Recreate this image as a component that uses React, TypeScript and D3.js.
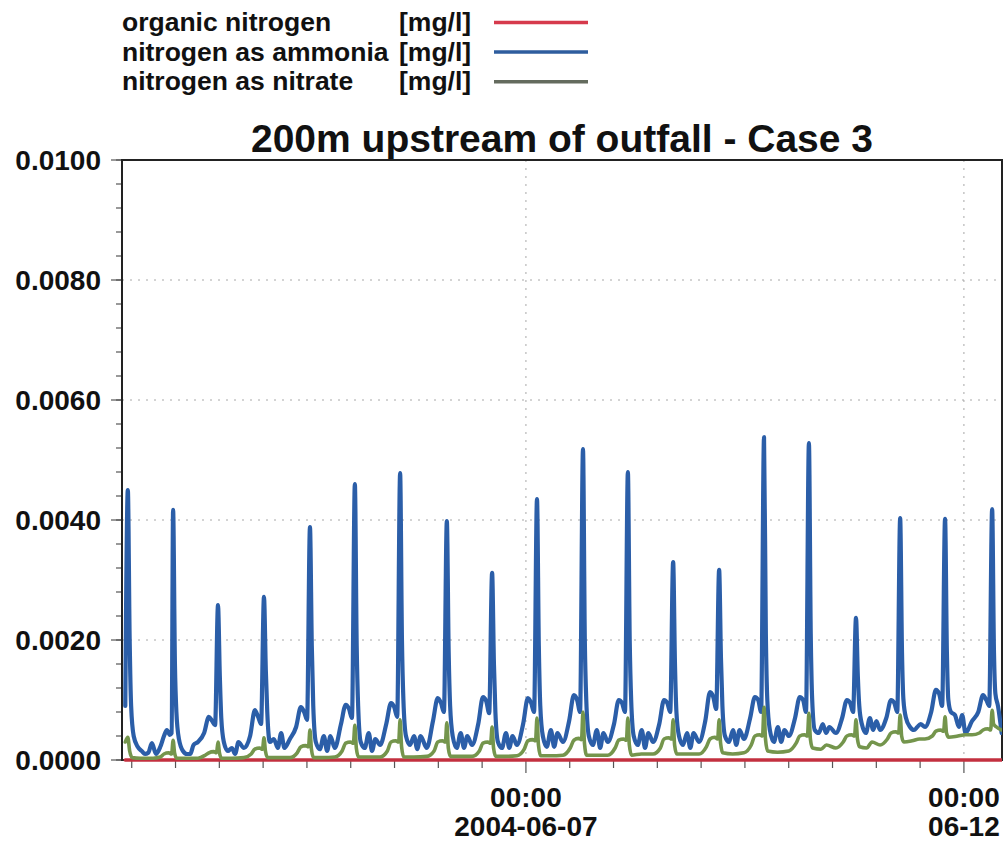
import { useRef, useEffect } from "react";
import * as d3 from "d3";

// [hours after startTime, concentration in mg/l]
type Point = [number, number];

const startTime = Date.UTC(2004, 5, 2, 9, 20);
const endHour = 241.1;

const chartTitle = "200m upstream of outfall - Case 3";
const seriesNames = ["organic nitrogen", "nitrogen as ammonia", "nitrogen as nitrate"];
const unitLabel = "[mg/l]";

const organicNitrogen: Point[] = [
  [0.9, 0], [60, 0], [120, 0], [180, 0], [241.0, 0],
];

const ammonia: Point[] = [
  // cycle 1
  [0.9, 0.0009], [1.6, 0.0045], [2.1, 0.002], [2.5, 0.0009], [3.2, 0.0004], [4.3, 0.00022], [5.4, 0.00015], [6.3, 0.0001], [7.2, 0.00012],
  // cycle 2
  [8.2, 0.00028], [9.3, 0.0001], [10.5, 0.00022], [11.5, 0.0004], [12.3, 0.0005], [13.1, 0.00042], [13.6, 0.00045], [14.0, 0.00417], [14.5, 0.0016], [14.9, 0.0008], [15.6, 0.00035], [16.7, 0.00015], [17.8, 0.0001], [18.7, 0.0001], [19.6, 0.00025],
  // cycle 3
  [20.8, 0.0003], [22.5, 0.00045], [23.8, 0.00072], [24.7, 0.00065], [25.5, 0.00058], [26.3, 0.00258], [26.8, 0.0014], [27.2, 0.0007], [27.9, 0.0003], [29.0, 0.00015], [30.1, 0.0002], [31.0, 0.0001], [31.9, 0.0003],
  // cycle 4
  [33.4, 0.0002], [35.1, 0.0004], [36.4, 0.00083], [37.3, 0.00072], [38.1, 0.0006], [38.9, 0.00272], [39.4, 0.0015], [39.8, 0.0008], [40.5, 0.0003], [41.6, 0.00035], [42.7, 0.0002], [43.6, 0.00045], [44.5, 0.0002],
  // cycle 5
  [46.0, 0.00035], [47.7, 0.00055], [49.0, 0.00088], [49.9, 0.0008], [50.7, 0.00067], [51.5, 0.00388], [52.0, 0.0019], [52.4, 0.0009], [53.1, 0.0003], [54.2, 0.00018], [55.3, 0.0004], [56.2, 0.00015], [57.1, 0.0004],
  // cycle 6
  [58.3, 0.0002], [60.0, 0.0006], [61.3, 0.00092], [62.2, 0.00085], [63.0, 0.0007], [63.8, 0.0046], [64.3, 0.0019], [64.7, 0.0009], [65.4, 0.0003], [66.5, 0.0002], [67.6, 0.00045], [68.5, 0.00015], [69.4, 0.00035],
  // cycle 7
  [70.7, 0.00025], [72.4, 0.0006], [73.7, 0.00095], [74.6, 0.00088], [75.4, 0.00072], [76.2, 0.00478], [76.7, 0.002], [77.1, 0.001], [77.8, 0.0004], [78.9, 0.00025], [80.0, 0.0004], [80.9, 0.00018], [81.8, 0.0004],
  // cycle 8
  [83.5, 0.0002], [85.2, 0.00065], [86.5, 0.00103], [87.4, 0.00095], [88.2, 0.0008], [89.0, 0.00398], [89.5, 0.0018], [89.9, 0.0009], [90.6, 0.0004], [91.7, 0.0002], [92.8, 0.00045], [93.7, 0.0002], [94.6, 0.0004],
  // cycle 9
  [95.9, 0.00025], [97.6, 0.0006], [98.9, 0.00105], [99.8, 0.00098], [100.6, 0.00078], [101.4, 0.00312], [101.9, 0.0016], [102.3, 0.0008], [103.0, 0.0003], [104.1, 0.0002], [105.2, 0.00045], [106.1, 0.0002], [107.0, 0.0004],
  // cycle 10
  [108.2, 0.00025], [109.9, 0.0006], [111.2, 0.00103], [112.1, 0.00095], [112.9, 0.0008], [113.7, 0.00435], [114.2, 0.0019], [114.6, 0.0009], [115.3, 0.0004], [116.4, 0.00022], [117.5, 0.0005], [118.4, 0.00022], [119.3, 0.00045],
  // cycle 11
  [120.8, 0.0003], [122.5, 0.00065], [123.8, 0.00108], [124.7, 0.001], [125.5, 0.0008], [126.3, 0.00518], [126.8, 0.002], [127.2, 0.001], [127.9, 0.0004], [129.0, 0.00025], [130.1, 0.0005], [131.0, 0.0002], [131.9, 0.00045],
  // cycle 12
  [133.1, 0.0003], [134.8, 0.0006], [136.1, 0.001], [137.0, 0.00095], [137.8, 0.0008], [138.6, 0.0048], [139.1, 0.002], [139.5, 0.001], [140.2, 0.0004], [141.3, 0.00025], [142.4, 0.0005], [143.3, 0.0002], [144.2, 0.00045],
  // cycle 13
  [145.5, 0.0003], [147.2, 0.0006], [148.5, 0.001], [149.4, 0.00095], [150.2, 0.0008], [151.0, 0.0033], [151.5, 0.0016], [151.9, 0.0008], [152.6, 0.0004], [153.7, 0.00025], [154.8, 0.00045], [155.7, 0.0002], [156.6, 0.00045],
  // cycle 14
  [158.1, 0.0003], [159.8, 0.00065], [161.1, 0.00113], [162.0, 0.00105], [162.8, 0.00085], [163.6, 0.00317], [164.1, 0.0017], [164.5, 0.0009], [165.2, 0.0004], [166.3, 0.0003], [167.4, 0.0005], [168.3, 0.00025], [169.2, 0.0005],
  // cycle 15
  [170.4, 0.00035], [172.1, 0.0007], [173.4, 0.00105], [174.3, 0.001], [175.1, 0.0008], [175.9, 0.00538], [176.4, 0.0021], [176.8, 0.001], [177.5, 0.0005], [178.6, 0.0003], [179.7, 0.00055], [180.6, 0.0003], [181.5, 0.0005],
  // cycle 16
  [182.7, 0.0004], [184.4, 0.0007], [185.7, 0.00105], [186.6, 0.001], [187.4, 0.0008], [188.2, 0.00528], [188.7, 0.0021], [189.1, 0.001], [189.8, 0.0005], [190.9, 0.00045], [192.0, 0.0006], [192.9, 0.00045], [193.8, 0.00055],
  // cycle 17
  [195.6, 0.00045], [197.3, 0.0007], [198.6, 0.001], [199.5, 0.00095], [200.3, 0.0008], [201.1, 0.00237], [201.6, 0.0014], [202.0, 0.0009], [202.7, 0.0006], [203.8, 0.00045], [204.9, 0.0007], [205.8, 0.0005], [206.7, 0.00065],
  // cycle 18
  [207.7, 0.0005], [209.4, 0.0007], [210.7, 0.001], [211.6, 0.00095], [212.4, 0.0008], [213.2, 0.00403], [213.7, 0.0018], [214.1, 0.001], [214.8, 0.0007], [215.9, 0.00055], [217.0, 0.0005], [217.9, 0.00055], [218.8, 0.0006],
  // cycle 19
  [220.0, 0.00055], [221.7, 0.0008], [223.0, 0.00117], [223.9, 0.0011], [224.7, 0.0009], [225.5, 0.00402], [226.0, 0.0018], [226.4, 0.001], [227.1, 0.0008], [228.2, 0.00075], [229.3, 0.00055], [230.2, 0.00075], [231.1, 0.00045],
  // cycle 20
  [232.9, 0.00065], [234.6, 0.0008], [235.9, 0.00108], [236.8, 0.001], [237.6, 0.0009], [238.4, 0.00418], [238.9, 0.0018], [239.3, 0.0011], [240.0, 0.0009], [241.0, 0.00045],
];

const nitrate: Point[] = [
  [0.9, 0.0003], [1.6, 0.00038], [2.1, 0.00015], [2.8, 0.00004], [5.0, 0.00003],
  [8.5, 0.00003], [10.5, 0.00005], [11.5, 0.0001], [12.8, 0.00012], [13.6, 0.0001], [14.0, 0.00033], [14.4, 0.00012], [15.0, 0.00003], [17.5, 0.00003],
  [20.8, 0.00003], [22.8, 0.00008], [23.8, 0.00012], [25.1, 0.00014], [25.9, 0.00012], [26.3, 0.0003], [26.7, 0.00012], [27.3, 0.00003], [30.0, 0.00003],
  [33.4, 0.00004], [35.4, 0.0001], [36.4, 0.00018], [37.7, 0.0002], [38.5, 0.00018], [38.9, 0.00037], [39.3, 0.00015], [39.9, 0.00004], [42.5, 0.00004],
  [46.0, 0.00004], [48.0, 0.00012], [49.0, 0.00022], [50.3, 0.00024], [51.1, 0.00022], [51.5, 0.0005], [51.9, 0.00018], [52.5, 0.00004], [55.0, 0.00004],
  [58.3, 0.00005], [60.3, 0.00015], [61.3, 0.00028], [62.6, 0.0003], [63.4, 0.00028], [63.8, 0.00058], [64.2, 0.0002], [64.8, 0.00005], [67.5, 0.00005],
  [70.7, 0.00005], [72.7, 0.00015], [73.7, 0.0003], [75.0, 0.00032], [75.8, 0.0003], [76.2, 0.00067], [76.6, 0.00022], [77.2, 0.00005], [80.0, 0.00005],
  [83.5, 0.00006], [85.5, 0.00015], [86.5, 0.0003], [87.8, 0.00032], [88.6, 0.0003], [89.0, 0.00062], [89.4, 0.0002], [90.0, 0.00006], [92.5, 0.00006],
  [95.9, 0.00006], [97.9, 0.00015], [98.9, 0.00028], [100.2, 0.0003], [101.0, 0.00028], [101.4, 0.00055], [101.8, 0.0002], [102.4, 0.00006], [105.0, 0.00006],
  [108.2, 0.00007], [110.2, 0.00018], [111.2, 0.00032], [112.5, 0.00034], [113.3, 0.00032], [113.7, 0.0007], [114.1, 0.00025], [114.7, 0.00007], [117.3, 0.00007],
  [120.8, 0.00008], [122.8, 0.0002], [123.8, 0.00033], [125.1, 0.00036], [125.9, 0.00034], [126.3, 0.0008], [126.7, 0.00028], [127.3, 0.00008], [130.0, 0.00008],
  [133.1, 0.00008], [135.1, 0.0002], [136.1, 0.00033], [137.4, 0.00035], [138.2, 0.00033], [138.6, 0.0007], [139.0, 0.00025], [139.6, 0.00008], [142.3, 0.0001],
  [145.5, 0.0001], [147.5, 0.0002], [148.5, 0.00035], [149.8, 0.00037], [150.6, 0.00035], [151.0, 0.00067], [151.4, 0.00025], [152.0, 0.0001], [154.7, 0.0001],
  [158.1, 0.0001], [160.1, 0.00022], [161.1, 0.00035], [162.4, 0.00038], [163.2, 0.00035], [163.6, 0.00067], [164.0, 0.00028], [164.6, 0.00012], [167.3, 0.0001],
  [170.4, 0.00012], [172.4, 0.00025], [173.4, 0.0004], [174.7, 0.00042], [175.5, 0.0004], [175.9, 0.00088], [176.3, 0.00035], [176.9, 0.00015], [179.6, 0.00013],
  [182.7, 0.00015], [184.7, 0.00028], [185.7, 0.0004], [187.0, 0.00042], [187.8, 0.0004], [188.2, 0.00078], [188.6, 0.00035], [189.2, 0.0002], [191.5, 0.00018], [193.0, 0.00025],
  [195.6, 0.0002], [197.6, 0.0003], [198.6, 0.0004], [199.9, 0.00042], [200.7, 0.0004], [201.1, 0.00067], [201.5, 0.00035], [202.1, 0.00022], [204.0, 0.0002], [205.5, 0.0003],
  [207.7, 0.00025], [209.7, 0.00035], [210.7, 0.00045], [212.0, 0.00047], [212.8, 0.00045], [213.2, 0.00075], [213.6, 0.0004], [214.2, 0.0003], [216.5, 0.00032], [218.5, 0.00035],
  [220.0, 0.00035], [222.0, 0.0004], [223.0, 0.00048], [224.3, 0.0005], [225.1, 0.00048], [225.5, 0.00072], [225.9, 0.00045], [226.5, 0.00038], [229.0, 0.0004], [231.0, 0.00042],
  [232.9, 0.00042], [234.9, 0.00045], [235.9, 0.0005], [237.2, 0.00052], [238.0, 0.0005], [238.4, 0.00083], [238.8, 0.0006], [239.6, 0.00055], [241.0, 0.0005],
];

const yTicks = [0, 0.002, 0.004, 0.006, 0.008, 0.01];
const gridValues = [0.002, 0.004, 0.006, 0.008];
const dateLabels = [
  { time: "2004-06-07T00:00:00Z", hour: "00:00", date: "2004-06-07" },
  { time: "2004-06-12T00:00:00Z", hour: "00:00", date: "06-12" },
];

const font = "'Liberation Sans', Arial, Helvetica, sans-serif";
const lineColors = ["#c3303f", "#2b5ea8", "#74954c"];
const legendColors = ["#d63a4c", "#2e5d9e", "#646b5e"];

const App = () => {
  const ref = useRef<HTMLDivElement | null>(null);
  const w = 1007;
  const h = 846;
  const left = 122;
  const right = 1002;
  const top = 160;
  const bottom = 760;

  useEffect(() => {
    const hourToDate = (hr: number) => new Date(startTime + hr * 3600 * 1000);

    const scaleX = d3
      .scaleUtc()
      .domain([hourToDate(0), hourToDate(endHour)])
      .range([left, right]);

    const scaleY = d3.scaleLinear().domain([0, 0.01]).range([bottom, top]);

    const svg = d3
      .select(ref.current)
      .append("svg")
      .attr("width", w)
      .attr("height", h)
      .style("position", "absolute")
      .style("left", 0)
      .style("top", 0)
      .style("background", "#fff")
      .style("font-family", font);

    // legend
    const legend = svg.append("g");
    seriesNames.forEach((name, i) => {
      const base = 31 + i * 29.6;
      legend
        .append("text")
        .attr("x", 122)
        .attr("y", base)
        .attr("font-size", 26.5)
        .attr("font-weight", "bold")
        .attr("fill", "#111")
        .text(name);
      legend
        .append("text")
        .attr("x", 399)
        .attr("y", base)
        .attr("font-size", 26.5)
        .attr("font-weight", "bold")
        .attr("fill", "#111")
        .text(unitLabel);
      legend
        .append("line")
        .attr("x1", 494)
        .attr("x2", 588)
        .attr("y1", base - 8.5)
        .attr("y2", base - 8.5)
        .attr("stroke", legendColors[i])
        .attr("stroke-width", 3.5);
    });

    // title
    svg
      .append("text")
      .attr("x", 562)
      .attr("y", 152)
      .attr("text-anchor", "middle")
      .attr("font-size", 39)
      .attr("font-weight", "bold")
      .attr("fill", "#111")
      .text(chartTitle);

    // dotted grid
    const grid = svg.append("g").attr("stroke", "#a8a8a8").attr("stroke-width", 1).attr("stroke-dasharray", "2 6");
    gridValues.forEach((v) => {
      grid.append("line").attr("x1", left).attr("x2", right).attr("y1", scaleY(v)).attr("y2", scaleY(v));
    });
    dateLabels.forEach((d) => {
      const x = scaleX(new Date(d.time));
      grid.append("line").attr("x1", x).attr("x2", x).attr("y1", top).attr("y2", bottom);
    });

    // y axis ticks + labels
    const minorY = d3.range(0, 0.01 + 1e-9, 0.0004);
    svg
      .append("g")
      .selectAll("line")
      .data(minorY)
      .enter()
      .append("line")
      .attr("x1", left - 6)
      .attr("x2", left)
      .attr("y1", (d) => scaleY(d))
      .attr("y2", (d) => scaleY(d))
      .attr("stroke", "#555")
      .attr("stroke-width", 1.2);
    svg
      .append("g")
      .selectAll("line")
      .data(yTicks)
      .enter()
      .append("line")
      .attr("x1", left - 11)
      .attr("x2", left)
      .attr("y1", (d) => scaleY(d))
      .attr("y2", (d) => scaleY(d))
      .attr("stroke", "#555")
      .attr("stroke-width", 1.2);
    svg
      .append("g")
      .selectAll("text")
      .data(yTicks)
      .enter()
      .append("text")
      .attr("x", 101)
      .attr("y", (d) => scaleY(d) + 10)
      .attr("text-anchor", "end")
      .attr("font-size", 28)
      .attr("font-weight", "bold")
      .attr("fill", "#111")
      .text((d) => d3.format(".4f")(d));

    // x axis ticks every 12 hours
    const xTicks = scaleX.ticks(d3.utcHour.every(12)!);
    svg
      .append("g")
      .selectAll("line")
      .data(xTicks)
      .enter()
      .append("line")
      .attr("x1", (d) => scaleX(d))
      .attr("x2", (d) => scaleX(d))
      .attr("y1", bottom)
      .attr("y2", (d) => (dateLabels.some((l) => +new Date(l.time) === +d) ? bottom + 13 : bottom + 8))
      .attr("stroke", "#555")
      .attr("stroke-width", 1.2);

    const xLabels = svg.append("g").attr("font-size", 28).attr("font-weight", "bold").attr("fill", "#111").attr("text-anchor", "middle");
    dateLabels.forEach((d) => {
      const x = scaleX(new Date(d.time));
      xLabels.append("text").attr("x", x).attr("y", 807).text(d.hour);
      xLabels.append("text").attr("x", x).attr("y", 836).text(d.date);
    });

    // frame
    svg
      .append("rect")
      .attr("x", left)
      .attr("y", top)
      .attr("width", right - left)
      .attr("height", bottom - top)
      .attr("fill", "none")
      .attr("stroke", "#222")
      .attr("stroke-width", 2);

    svg
      .append("clipPath")
      .attr("id", "plot-clip")
      .append("rect")
      .attr("x", left)
      .attr("y", top - 2)
      .attr("width", right - left)
      .attr("height", bottom - top + 4);

    const lineFunc = d3
      .line<Point>()
      .x((d) => scaleX(hourToDate(d[0])))
      .y((d) => scaleY(d[1]))
      .curve(d3.curveMonotoneX);

    const lines = svg.append("g").attr("clip-path", "url(#plot-clip)");
    [organicNitrogen, ammonia, nitrate].forEach((series, i) => {
      lines
        .append("path")
        .attr("d", lineFunc(series))
        .attr("fill", "none")
        .attr("stroke", lineColors[i])
        .attr("stroke-width", i === 1 ? 4.2 : 3.6)
        .attr("stroke-linejoin", "round")
        .attr("stroke-linecap", "round");
    });

    return () => {
      svg.remove();
    };
  }, []);

  return <div ref={ref} />;
};

export default App;
